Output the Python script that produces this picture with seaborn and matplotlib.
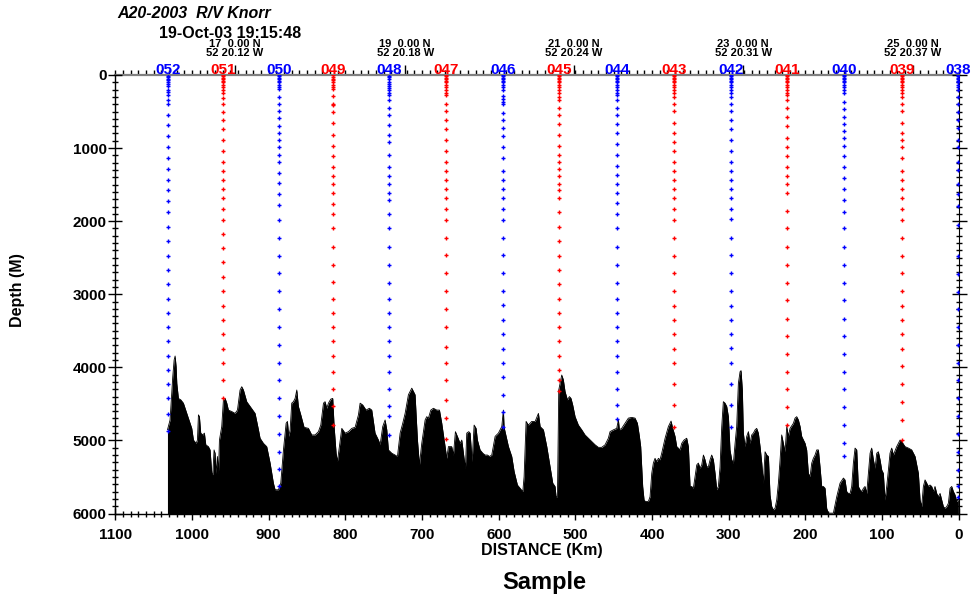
import matplotlib
matplotlib.use("Agg")
import matplotlib.pyplot as plt
from matplotlib.ticker import MultipleLocator
import pandas as pd
import seaborn as sns

# ---------------------------------------------------------------- data
stations = ['052', '051', '050', '049', '048', '047', '046', '045',
            '044', '043', '042', '041', '040', '039', '038']
station_km = [1031.6, 959.2, 886.9, 815.7, 743.4, 669.1, 594.8, 520.9,
              446.1, 370.9, 297.4, 224.3, 149.2, 74.3, 0.5]
station_colour = ['blue', 'red'] * 7 + ['blue']

# bottle depths (m) for each cast
bottles_052 = [10, 25, 50, 75, 100, 125, 150, 200, 230, 275, 340, 400, 550, 690, 840, 990,
               1140, 1290, 1430, 1580, 1730, 1880, 2075, 2275, 2470, 2670, 2865, 3060,
               3250, 3450, 3645, 3840, 4035, 4230, 4425, 4640, 4865]
bottles_051 = [5, 20, 40, 60, 80, 100, 130, 160, 200, 250, 320, 400, 500, 620, 745, 895,
               1040, 1185, 1310, 1430, 1555, 1680, 1830, 1980, 2175, 2370, 2565, 2765,
               2960, 3155, 3350, 3545, 3745, 3940, 4180, 4420]
bottles_050 = [5, 20, 40, 60, 80, 100, 130, 160, 195, 295, 395, 495, 595, 695, 795, 890,
               990, 1090, 1185, 1335, 1480, 1635, 1780, 1980, 2225, 2470, 2715, 2960,
               3205, 3445, 3695, 3935, 4175, 4425, 4665, 4910, 5155, 5395, 5630]
bottles_049 = [5, 25, 50, 75, 100, 130, 160, 190, 290, 390, 415, 500, 650, 815, 965, 1115,
               1265, 1385, 1485, 1610, 1760, 1905, 2100, 2350, 2595, 2835, 3060, 3250,
               3450, 3645, 3840, 4060, 4300, 4535, 4790]
bottles_048 = [10, 30, 60, 90, 120, 150, 180, 210, 250, 280, 345, 445, 545, 680, 815, 915,
               1095, 1265, 1385, 1485, 1610, 1705, 1905, 2100, 2350, 2595, 2840, 3060,
               3250, 3450, 3645, 3840, 4060, 4300, 4535, 4665, 4925]
bottles_047 = [5, 20, 40, 60, 80, 100, 130, 160, 200, 250, 280, 400, 495, 620, 745, 895,
               1040, 1190, 1315, 1435, 1565, 1685, 1835, 1980, 2230, 2465, 2715, 2960,
               3205, 3450, 3720, 3935, 4180, 4445, 4695, 4980]
bottles_046 = [5, 20, 40, 60, 80, 100, 130, 160, 200, 285, 325, 370, 400, 525, 620, 725,
               840, 990, 1140, 1315, 1435, 1565, 1685, 1835, 1980, 2225, 2465, 2715, 2960,
               3150, 3355, 3550, 3745, 3935, 4130, 4375, 4605, 4820]
bottles_045 = [5, 20, 40, 60, 80, 100, 130, 160, 200, 250, 300, 345, 445, 545, 670, 815,
               965, 1090, 1190, 1290, 1385, 1485, 1580, 1685, 1880, 2080, 2275, 2470, 2670,
               2865, 3060, 3250, 3450, 3645, 3840, 4035, 4180, 4330]
bottles_044 = [5, 20, 40, 60, 80, 100, 130, 160, 200, 250, 280, 345, 445, 545, 670, 795,
               940, 1090, 1240, 1365, 1485, 1610, 1755, 1905, 2100, 2350, 2595, 2840, 3060,
               3250, 3450, 3645, 3840, 4060, 4300, 4520, 4710]
bottles_043 = [5, 20, 40, 60, 80, 100, 130, 160, 200, 250, 300, 400, 495, 650, 795, 915,
               1045, 1190, 1315, 1435, 1560, 1685, 1835, 1980, 2225, 2470, 2715, 2960, 3160,
               3355, 3550, 3745, 3935, 4225, 4520, 4810]
bottles_042 = [5, 20, 40, 60, 80, 100, 130, 160, 200, 250, 300, 400, 495, 620, 745, 885,
               1040, 1190, 1315, 1435, 1560, 1685, 1830, 1975, 2225, 2465, 2715, 2960, 3160,
               3355, 3550, 3735, 3935, 4225, 4520, 4810]
bottles_041 = [5, 20, 40, 60, 80, 100, 130, 160, 200, 250, 280, 345, 445, 570, 700, 865,
               990, 1115, 1265, 1385, 1485, 1610, 1855, 2100, 2350, 2595, 2840, 3085, 3335,
               3575, 3815, 4060, 4300, 4545, 4790]
bottles_040 = [5, 20, 40, 60, 80, 100, 130, 160, 200, 250, 370, 470, 570, 670, 770, 865,
               965, 1115, 1265, 1410, 1560, 1705, 1880, 2100, 2350, 2595, 2840, 3085, 3335,
               3575, 3815, 4060, 4300, 4545, 4790, 5030, 5220]
bottles_039 = [5, 20, 40, 60, 80, 100, 130, 160, 200, 250, 300, 400, 495, 650, 795, 895,
               990, 1140, 1315, 1435, 1560, 1685, 1835, 1980, 2225, 2470, 2715, 2960, 3160,
               3355, 3550, 3745, 3985, 4225, 4475, 4720, 4995]
bottles_038 = [5, 20, 40, 60, 80, 100, 130, 160, 200, 295, 395, 500, 615, 730, 890, 990,
               1185, 1300, 1490, 1630, 1790, 2050, 2470, 2720, 2965, 3205, 3450, 3695, 3935,
               4180, 4425, 4665, 4910, 5155, 5405, 5630, 5770]
station_bottles = [bottles_052, bottles_051, bottles_050, bottles_049, bottles_048,
                   bottles_047, bottles_046, bottles_045, bottles_044, bottles_043,
                   bottles_042, bottles_041, bottles_040, bottles_039, bottles_038]

# latitude / longitude marks along the section
lat_km = [944, 722, 502, 281, 60]
lat_text = ['17  0.00 N', '19  0.00 N', '21  0.00 N', '23  0.00 N', '25  0.00 N']
lon_text = ['52 20.12 W', '52 20.18 W', '52 20.24 W', '52 20.31 W', '52 20.37 W']

# bottom topography, western part (km, m)
west_km = [1032.1, 1028.7, 1025.2, 1023.4, 1022.1, 1020.8, 1019.9, 1017.8, 1014.7, 1011.3,
           1006.9, 1002.6, 1000.4, 998.2, 994.7, 993.0, 991.7, 990.4, 988.7, 986.0,
           983.9, 982.1, 978.7, 976.5, 974.3, 973.0, 971.3, 970.0, 968.7, 966.9,
           965.6, 964.3, 961.3, 959.1, 956.9, 954.7, 952.6, 948.2, 943.9, 940.8,
           937.4, 935.2, 933.0, 928.7, 924.3, 917.8, 913.4, 911.3, 906.9, 902.6,
           898.2, 893.9, 891.7, 887.3, 884.3, 880.8, 877.3, 875.6, 873.9, 872.1,
           870.0, 867.8, 865.6, 863.4, 861.3, 858.2, 853.9, 848.2, 843.9, 839.5,
           835.2, 832.1, 828.6, 826.5, 824.3, 822.1, 819.1, 816.5, 814.7, 812.1,
           810.4, 807.8, 804.7, 800.4, 796.0, 791.7, 787.3, 783.0, 780.8, 777.4,
           773.0, 768.7, 765.6, 761.3, 756.9, 754.7, 751.3, 748.2, 746.0, 743.9,
           739.5, 735.2, 732.1, 728.6, 725.2, 722.1, 717.8, 713.4, 709.1, 706.0,
           703.4, 700.4, 696.0, 693.9, 691.7, 688.6, 685.2, 680.8, 677.3, 674.3,
           669.9, 667.8, 665.6, 661.3, 659.1, 656.5, 653.9, 650.4, 648.2, 645.2,
           643.4, 641.7, 639.1, 637.3, 634.7, 632.1, 629.5, 627.8, 624.3, 620.8,
           617.8, 614.7, 612.1, 609.1, 604.7, 600.4, 596.0, 593.9, 593.0, 587.3,
           583.0, 579.9, 575.6, 572.1, 568.6, 566.9, 564.3, 561.3, 556.9, 552.5,
           548.2, 546.0, 541.7, 537.3, 533.0, 529.5, 526.5, 525.2, 523.4, 521.7]
west_depth = [4855, 4720, 4130, 3900, 3845, 3990, 4220, 4425, 4445, 4490,
              4630, 4765, 4835, 4995, 5040, 4995, 4650, 4675, 4900, 4925,
              4900, 5060, 5085, 5130, 5450, 5470, 5130, 5175, 5450, 5220,
              5450, 4995, 4810, 4445, 4425, 4490, 4585, 4605, 4630, 4585,
              4310, 4265, 4310, 4470, 4535, 4630, 4855, 4970, 5040, 5085,
              5310, 5585, 5675, 5675, 5585, 5130, 4765, 4740, 4945, 4855,
              4490, 4470, 4425, 4310, 4535, 4650, 4820, 4835, 4925, 4925,
              4880, 4790, 4490, 4470, 4560, 4490, 4435, 4425, 4810, 5175,
              5290, 5085, 4835, 4900, 4880, 4835, 4820, 4650, 4490, 4515,
              4585, 4560, 4585, 4900, 4995, 5060, 4810, 4720, 4855, 5130,
              5175, 5200, 5220, 4900, 4765, 4630, 4375, 4285, 4375, 4995,
              5335, 5040, 4720, 4675, 4695, 4585, 4560, 4585, 4585, 4765,
              5085, 5245, 5085, 5085, 5200, 4880, 4945, 5040, 4995, 5245,
              5380, 4900, 4880, 4900, 5290, 4790, 4835, 4995, 5130, 5175,
              5200, 5200, 5220, 5200, 4945, 4900, 4810, 4585, 4820, 5085,
              5220, 5425, 5610, 5655, 5700, 5495, 4740, 4790, 4740, 4740,
              4630, 4810, 4855, 5085, 5360, 5585, 5630, 5770, 5770, 4310]

# bottom topography, eastern part (km, m)
east_km = [520.0, 517.8, 515.7, 513.5, 510.4, 507.8, 505.7, 503.5, 500.4, 496.1,
           491.7, 487.4, 483.0, 478.7, 474.3, 470.0, 465.7, 461.3, 457.0, 454.8,
           450.4, 446.1, 443.9, 442.6, 439.6, 435.2, 430.9, 426.5, 422.2, 419.1,
           416.5, 414.8, 412.2, 410.4, 408.7, 404.8, 402.6, 400.4, 398.3, 396.1,
           393.9, 391.7, 389.6, 387.4, 383.0, 378.7, 375.2, 373.0, 370.0, 367.8,
           365.7, 363.5, 361.3, 358.3, 354.8, 352.6, 350.4, 348.3, 346.1, 343.9,
           341.7, 339.6, 337.4, 335.2, 333.0, 330.9, 328.7, 326.5, 324.3, 322.2,
           320.0, 317.8, 315.6, 313.5, 311.3, 309.1, 307.0, 304.8, 302.6, 300.4,
           298.3, 296.1, 293.9, 291.7, 289.6, 287.4, 285.2, 283.9, 282.2, 280.9,
           278.7, 276.5, 274.3, 272.2, 270.0, 267.8, 265.6, 263.5, 261.3, 259.1,
           256.9, 254.8, 252.6, 250.4, 248.2, 246.1, 243.9, 241.7, 239.6, 237.4,
           235.2, 233.0, 230.9, 228.7, 226.5, 224.3, 222.2, 220.0, 217.8, 215.6,
           213.5, 211.3, 209.1, 206.9, 204.8, 200.4, 198.3, 196.1, 193.9, 191.7,
           189.6, 187.4, 185.2, 183.0, 180.9, 178.7, 176.5, 174.3, 172.2, 170.0,
           165.6, 163.5, 161.3, 159.1, 154.8, 150.4, 148.3, 146.1, 143.9, 141.7,
           139.6, 137.4, 135.2, 133.0, 130.9, 128.7, 126.5, 124.3, 122.2, 120.0,
           117.8, 115.6, 113.5, 111.3, 109.1, 106.9, 104.8, 102.6, 100.4, 98.3,
           96.1, 93.9, 91.7, 89.6, 87.4, 85.2, 80.9, 76.5, 74.3, 70.0,
           65.6, 61.3, 56.9, 52.6, 50.4, 48.3, 46.1, 43.9, 41.7, 39.5,
           37.4, 35.2, 33.0, 30.9, 28.7, 26.5, 24.3, 22.2, 20.0, 17.8,
           15.6, 13.5, 11.3, 9.1, 6.9, 4.8, 2.6, 0.4]
east_depth = [4220, 4105, 4170, 4330, 4445, 4400, 4425, 4515, 4675, 4790,
              4855, 4925, 4970, 5015, 5060, 5095, 5095, 5060, 4970, 4880,
              4855, 4835, 4720, 4855, 4835, 4765, 4695, 4685, 4695, 4765,
              4945, 5085, 5630, 5815, 5835, 5835, 5770, 5450, 5310, 5245,
              5290, 5245, 5265, 5175, 4970, 4810, 4735, 4835, 4945, 5085,
              5105, 5130, 5040, 4995, 4970, 5085, 5630, 5630, 5655, 5495,
              5335, 5310, 5380, 5335, 5200, 5265, 5360, 5360, 5265, 5200,
              5265, 5450, 5675, 5630, 5360, 4810, 4470, 4490, 4535, 4675,
              5130, 5265, 5310, 5040, 4810, 4220, 4060, 4045, 4310, 4900,
              5085, 4945, 4880, 5040, 4925, 4900, 4855, 4835, 4900, 5085,
              5310, 5585, 5155, 5200, 5220, 5745, 5905, 5950, 5930, 5815,
              5585, 5265, 4925, 5040, 5155, 4810, 4945, 4835, 4800, 4765,
              4695, 4675, 4720, 4810, 4945, 5040, 5130, 5450, 5495, 5310,
              5245, 5200, 5130, 5130, 5360, 5630, 5630, 5655, 5930, 5995,
              5995, 5995, 5880, 5770, 5585, 5515, 5540, 5700, 5725, 5725,
              5630, 5310, 5105, 5130, 5630, 5675, 5700, 5655, 5630, 5725,
              5450, 5175, 5105, 5265, 5380, 5175, 5155, 5265, 5405, 5450,
              5815, 5630, 5405, 5175, 5105, 5200, 5085, 4995, 5015, 5085,
              5105, 5130, 5220, 5450, 5815, 5905, 5630, 5540, 5585, 5630,
              5610, 5630, 5700, 5630, 5725, 5770, 5725, 5815, 5905, 5930,
              5905, 5860, 5655, 5630, 5700, 5745, 5835, 5815]

max_km, max_depth = 1100, 6000

# ---------------------------------------------------------------- tables
profile = pd.DataFrame({'km': west_km + east_km, 'depth': west_depth + east_depth})

rows = []
for name, km, colour, depths in zip(stations, station_km, station_colour, station_bottles):
    for d in depths:
        rows.append({'station': name, 'km': km, 'depth': d, 'colour': colour})
bottles = pd.DataFrame(rows)

# ---------------------------------------------------------------- style
sns.set_style('ticks')
plt.rcParams['font.family'] = ['Liberation Sans', 'DejaVu Sans']
plt.rcParams['font.weight'] = 'bold'
plt.rcParams['text.color'] = 'black'
plt.rcParams['axes.labelcolor'] = 'black'
plt.rcParams['xtick.color'] = 'black'
plt.rcParams['ytick.color'] = 'black'
plt.rcParams['axes.edgecolor'] = 'black'

W, H = 977, 600
fig = plt.figure(figsize=(W / 100, H / 100), dpi=100)
x0, x1, y0, y1 = 115.4, 958.7, 75.0, 513.5
ax = fig.add_axes([x0 / W, 1 - y1 / H, (x1 - x0) / W, (y1 - y0) / H])

# seafloor
ax.fill_between(profile['km'], profile['depth'], max_depth, color='black', lw=0, zorder=2)
sns.lineplot(data=profile, x='km', y='depth', sort=False, estimator=None,
             color='black', lw=0.6, ax=ax, zorder=2)

# bottle positions, one colour group at a time
palette = {'blue': '#0000ff', 'red': '#ff0000'}
for colour, group in bottles.groupby('colour'):
    sns.scatterplot(data=group, x='km', y='depth', color=palette[colour],
                    marker='+', s=12, linewidth=1.0, legend=False, ax=ax, zorder=3)

ax.set_xlim(max_km, 0)
ax.set_ylim(max_depth, 0)
ax.set_xlabel('')
ax.set_ylabel('')

# axes frame and ticks
for side in ('top', 'right'):
    ax.spines[side].set_visible(False)
for side in ('left', 'bottom'):
    ax.spines[side].set_color('black')
    ax.spines[side].set_linewidth(1.0)

ax.xaxis.set_major_locator(MultipleLocator(100))
ax.xaxis.set_minor_locator(MultipleLocator(10))
ax.yaxis.set_major_locator(MultipleLocator(1000))
ax.yaxis.set_minor_locator(MultipleLocator(100))
ax.tick_params(axis='x', which='major', direction='inout', length=8.6, width=1.0,
               pad=6, labelsize=11, colors='black')
ax.tick_params(axis='x', which='minor', direction='inout', length=4.3, width=1.0)
ax.tick_params(axis='y', which='major', direction='inout', length=9.4, width=1.0,
               pad=1.5, labelsize=11, colors='black')
ax.tick_params(axis='y', which='minor', direction='inout', length=5.0, width=1.0)
for lbl in ax.get_xticklabels() + ax.get_yticklabels():
    lbl.set_fontweight('bold')

top = ax.secondary_xaxis('top')
top.set_xticks(lat_km)
top.xaxis.set_minor_locator(MultipleLocator(10))
top.tick_params(which='major', direction='out', length=7, width=1.0, labeltop=False)
top.tick_params(which='minor', direction='out', length=3.6, width=1.0)
top.spines['top'].set_color('#808080')
top.spines['top'].set_linewidth(1.6)

right = ax.secondary_yaxis('right')
right.yaxis.set_major_locator(MultipleLocator(1000))
right.yaxis.set_minor_locator(MultipleLocator(100))
right.tick_params(which='major', direction='inout', length=10.8, width=1.0, labelright=False)
right.tick_params(which='minor', direction='inout', length=5.0, width=1.0)
right.spines['right'].set_color('black')

# station numbers along the top
for name, km, colour in zip(stations, station_km, station_colour):
    ax.annotate(name, xy=(km, 0), xytext=(0, 0.6), textcoords='offset points',
                ha='center', va='baseline', color=palette[colour], fontsize=11,
                fontweight='bold', annotation_clip=False, zorder=5)

# position labels
for km, lat, lon in zip(lat_km, lat_text, lon_text):
    ax.annotate(lat, xy=(km, 0), xytext=(0, 22), textcoords='offset points',
                ha='center', va='center', fontsize=8, fontweight='bold',
                color='black', annotation_clip=False)
    ax.annotate(lon, xy=(km, 0), xytext=(0, 15.5), textcoords='offset points',
                ha='center', va='center', fontsize=8, fontweight='bold',
                color='black', annotation_clip=False)

# titles and axis names
fig.text(117 / W, 1 - 13.5 / H, 'A20-2003  R/V Knorr', ha='left', va='center',
         fontsize=11.5, fontweight='bold', fontstyle='italic', color='black')
fig.text(159 / W, 1 - 33.5 / H, '19-Oct-03 19:15:48', ha='left', va='center',
         fontsize=11.5, fontweight='bold', color='black')
fig.text(18 / W, 1 - 290 / H, 'Depth (M)', rotation=90, ha='center', va='center',
         fontsize=11.5, fontweight='bold', color='black')
fig.text(542 / W, 1 - 551 / H, 'DISTANCE (Km)', ha='center', va='center',
         fontsize=11.5, fontweight='bold', color='black')
fig.text(544 / W, 1 - 583 / H, 'Sample', ha='center', va='center',
         fontsize=17, fontweight='bold', color='black')

fig.savefig('out.png', dpi=100, facecolor='white')
